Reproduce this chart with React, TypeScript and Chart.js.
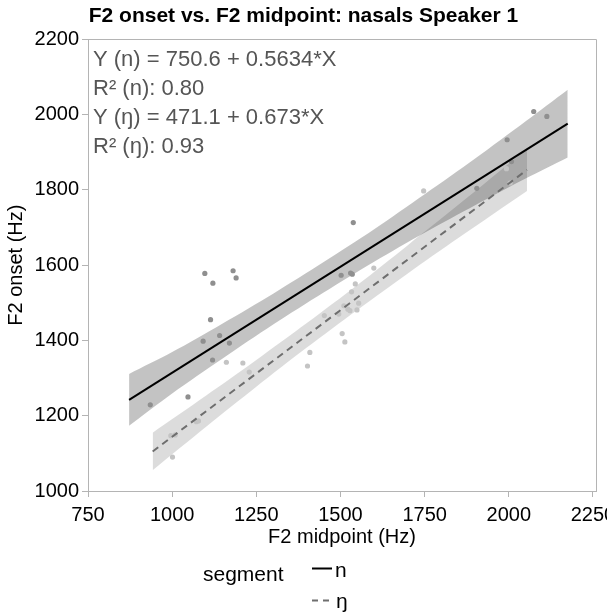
import { useEffect, useRef } from 'react';
import { Chart, registerables } from 'chart.js';

Chart.register(...registerables);

// ---- Data ----
const titleText = 'F2 onset vs. F2 midpoint: nasals Speaker 1';
const xTitle = 'F2 midpoint (Hz)';
const yTitle = 'F2 onset (Hz)';
const legendTitle = 'segment';
const seriesNames = ['n', 'ŋ'];

const xTicks = [750, 1000, 1250, 1500, 1750, 2000, 2250];
const yTicks = [1000, 1200, 1400, 1600, 1800, 2000, 2200];

// segment n: points
const nMid = [935, 1047, 1092, 1097, 1114, 1120, 1121, 1141, 1170, 1181, 1190, 1502, 1530, 1535, 1538, 1905, 1995, 2008, 2074, 2113];
const nOnset = [1229, 1250, 1398, 1578, 1455, 1348, 1552, 1413, 1393, 1585, 1566, 1573, 1579, 1576, 1713, 1804, 1933, 1875, 2008, 1995];

// segment ŋ: points
const ngMid = [996, 1001, 1009, 1072, 1078, 1161, 1210, 1229, 1402, 1409, 1452, 1495, 1505, 1510, 1513, 1522, 1528, 1533, 1544, 1549, 1554, 1599, 1747, 1993, 2004];
const ngOnset = [1147, 1090, 1149, 1184, 1186, 1342, 1340, 1316, 1332, 1368, 1466, 1470, 1418, 1492, 1396, 1483, 1479, 1529, 1550, 1481, 1499, 1592, 1797, 1856, 1818];

// fitted lines (end points)
const nFitX = [872, 2175];
const nFitY = [1242, 1976];
const ngFitX = [942, 2054];
const ngFitY = [1105, 1853];

// confidence bands
const nBandX = [872, 1000, 1150, 1300, 1450, 1600, 1750, 1900, 2050, 2175];
const nBandLo = [1173, 1259, 1352, 1442, 1527, 1609, 1686, 1759, 1830, 1886];
const nBandHi = [1311, 1369, 1445, 1524, 1608, 1695, 1788, 1883, 1982, 2066];

const ngBandX = [942, 1100, 1250, 1400, 1550, 1700, 1850, 2054];
const ngBandLo = [1055, 1170, 1277, 1381, 1481, 1578, 1672, 1797];
const ngBandHi = [1155, 1253, 1348, 1446, 1547, 1653, 1760, 1909];

const annotationLines = [
  'Y (n) = 750.6 + 0.5634*X',
  'R² (n): 0.80',
  'Y (ŋ) = 471.1 + 0.673*X',
  'R² (ŋ): 0.93',
];

// ---- Styles ----
const FONT = '"Liberation Sans", Arial, Helvetica, sans-serif';
const AXIS = '#b4b4b4';
const N_POINT = '#8f8f8f';
const NG_POINT = '#c4c4c4';
const N_BAND = 'rgba(0,0,0,0.235)';
const NG_BAND = 'rgba(0,0,0,0.137)';
const N_LINE = '#000000';
const NG_LINE = '#6e6e6e';
const NG_DASH = [7, 5];

const zip = (xs: number[], ys: number[]) => xs.map((x, i) => ({ x, y: ys[i] }));

const framePlugin = {
  id: 'frame',
  afterDatasetsDraw(chart: any) {
    const { ctx, chartArea } = chart;
    const { left, right, top, bottom } = chartArea;
    ctx.save();
    ctx.strokeStyle = AXIS;
    ctx.lineWidth = 1;
    ctx.beginPath();
    ctx.moveTo(left, Math.round(top) + 0.5);
    ctx.lineTo(Math.round(right) + 0.5, Math.round(top) + 0.5);
    ctx.lineTo(Math.round(right) + 0.5, bottom);
    ctx.stroke();
    ctx.restore();
  },
};

const annotationPlugin = {
  id: 'fitText',
  afterDraw(chart: any) {
    const { ctx, chartArea } = chart;
    ctx.save();
    ctx.font = `22px ${FONT}`;
    ctx.fillStyle = '#555555';
    ctx.textAlign = 'left';
    ctx.textBaseline = 'alphabetic';
    annotationLines.forEach((t, i) => {
      ctx.fillText(t, chartArea.left + 5, chartArea.top + 27 + i * 29);
    });
    ctx.restore();
  },
};

const legendPlugin = {
  id: 'segLegend',
  afterDraw(chart: any) {
    const { ctx } = chart;
    ctx.save();
    ctx.font = `21px ${FONT}`;
    ctx.fillStyle = '#000';
    ctx.textAlign = 'left';
    ctx.textBaseline = 'alphabetic';
    ctx.fillText(legendTitle, 203, 581);
    // n key
    ctx.strokeStyle = N_LINE;
    ctx.lineWidth = 2;
    ctx.beginPath();
    ctx.moveTo(312, 568.5);
    ctx.lineTo(332, 568.5);
    ctx.stroke();
    ctx.fillText(seriesNames[0], 335, 577);
    // ŋ key
    ctx.strokeStyle = NG_LINE;
    ctx.setLineDash([6, 5]);
    ctx.beginPath();
    ctx.moveTo(312, 600.5);
    ctx.lineTo(332, 600.5);
    ctx.stroke();
    ctx.setLineDash([]);
    ctx.fillText(seriesNames[1], 336, 608);
    ctx.restore();
  },
};

export default function App() {
  const ref = useRef<HTMLCanvasElement | null>(null);

  useEffect(() => {
    document.body.style.margin = '0';
    const canvas = ref.current;
    if (!canvas) return;

    const bandCommon = {
      pointRadius: 0,
      borderWidth: 0,
      borderColor: 'transparent',
      tension: 0.3,
      order: 3,
    };

    const chart = new Chart(canvas, {
      type: 'line',
      data: {
        datasets: [
          { ...bandCommon, data: zip(nBandX, nBandLo), fill: false, backgroundColor: N_BAND },
          { ...bandCommon, data: zip(nBandX, nBandHi), fill: '-1', backgroundColor: N_BAND },
          { ...bandCommon, data: zip(ngBandX, ngBandLo), fill: false, backgroundColor: NG_BAND },
          { ...bandCommon, data: zip(ngBandX, ngBandHi), fill: '-1', backgroundColor: NG_BAND },
          {
            data: zip(ngMid, ngOnset),
            showLine: false,
            pointRadius: 2.6,
            pointBorderWidth: 0,
            pointBackgroundColor: NG_POINT,
            backgroundColor: NG_POINT,
            borderColor: NG_POINT,
            order: 2,
          },
          {
            data: zip(nMid, nOnset),
            showLine: false,
            pointRadius: 2.6,
            pointBorderWidth: 0,
            pointBackgroundColor: N_POINT,
            backgroundColor: N_POINT,
            borderColor: N_POINT,
            order: 2,
          },
          {
            data: zip(ngFitX, ngFitY),
            borderColor: NG_LINE,
            borderWidth: 2,
            borderDash: NG_DASH,
            pointRadius: 0,
            fill: false,
            order: 1,
          },
          {
            data: zip(nFitX, nFitY),
            borderColor: N_LINE,
            borderWidth: 2,
            pointRadius: 0,
            fill: false,
            order: 1,
          },
        ],
      },
      options: {
        animation: false,
        responsive: false,
        events: [],
        layout: { padding: { top: 0, right: 0, bottom: 64, left: 0 } },
        plugins: {
          legend: { display: false },
          tooltip: { enabled: false },
          title: {
            display: true,
            text: titleText,
            color: '#000',
            font: { family: FONT, size: 21, weight: 'bold' },
            padding: { top: 4, bottom: 10 },
          },
        },
        scales: {
          x: {
            type: 'linear',
            min: 750,
            max: 2259,
            afterBuildTicks: (s: any) => {
              s.ticks = xTicks.map((v) => ({ value: v }));
            },
            afterFit: (s: any) => {
              s.height = 59;
              s.paddingLeft = 0;
              s.paddingRight = 11;
            },
            ticks: {
              autoSkip: false,
              color: '#000',
              font: { family: FONT, size: 20 },
              padding: 6,
              maxRotation: 0,
              callback: (v: any) => String(v),
            },
            grid: { drawOnChartArea: false, drawTicks: true, tickLength: 6, color: AXIS },
            border: { display: true, color: AXIS },
            title: {
              display: true,
              text: xTitle,
              color: '#000',
              font: { family: FONT, size: 20 },
              padding: { top: 0, bottom: 1 },
            },
          },
          y: {
            type: 'linear',
            min: 1000,
            max: 2200,
            afterBuildTicks: (s: any) => {
              s.ticks = yTicks.map((v) => ({ value: v }));
            },
            afterFit: (s: any) => {
              s.width = 88;
              s.paddingTop = 0;
              s.paddingBottom = 0;
            },
            ticks: {
              autoSkip: false,
              color: '#000',
              font: { family: FONT, size: 20 },
              padding: 3,
              callback: (v: any) => String(v),
            },
            grid: { drawOnChartArea: false, drawTicks: true, tickLength: 6, color: AXIS },
            border: { display: true, color: AXIS },
            title: {
              display: true,
              text: yTitle,
              color: '#000',
              font: { family: FONT, size: 20 },
              padding: { top: 4, bottom: 0 },
            },
          },
        },
      },
      plugins: [framePlugin, annotationPlugin, legendPlugin],
    } as any);

    return () => chart.destroy();
  }, []);

  return <canvas ref={ref} width={607} height={614} style={{ display: 'block' }} />;
}
